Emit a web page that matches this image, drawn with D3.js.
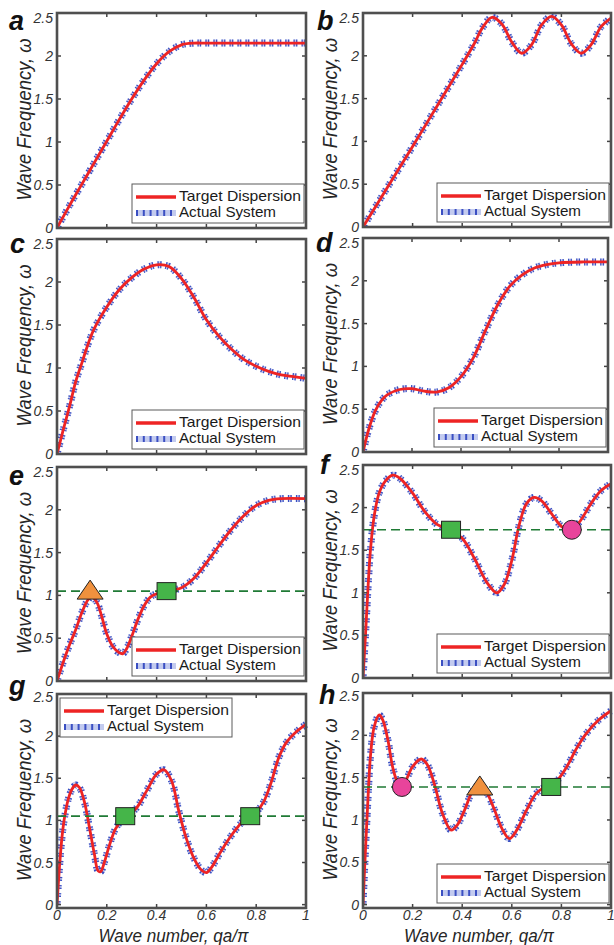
<!DOCTYPE html>
<html>
<head>
<meta charset="utf-8">
<script src="https://cdn.jsdelivr.net/npm/d3@7"></script>
<style>
  body { margin: 0; background: #fff; }
  svg { display: block; }
  text { font-family: "Liberation Sans", Arial, sans-serif; }
</style>
</head>
<body>
<svg id="fig" width="614" height="945"></svg>
<script>
// wave number axis values and tick labels
var xTicks = [0, 0.2, 0.4, 0.6, 0.8, 1];
var xTickLabels = ["0", "0.2", "0.4", "0.6", "0.8", "1"];
var yTicks = [0, 0.5, 1, 1.5, 2, 2.5];
var yTickLabels = ["0", "0.5", "1", "1.5", "2", "2.5"];
var seriesNames = ["Target Dispersion", "Actual System"];

// dispersion curves (q = qa/pi, w = frequency)
var qA = [0, 0.05, 0.1, 0.15, 0.2, 0.25, 0.3, 0.35, 0.4, 0.45, 0.5, 0.55, 0.6, 0.7, 0.8, 0.9, 1];
var wA = [0, 0.26, 0.51, 0.76, 1.01, 1.26, 1.5, 1.72, 1.91, 2.05, 2.13, 2.15, 2.15, 2.15, 2.15, 2.15, 2.15];

var qB = [0, 0.1, 0.2, 0.3, 0.4, 0.45, 0.48, 0.52, 0.56, 0.6, 0.64, 0.68, 0.72, 0.76, 0.8, 0.84, 0.88, 0.92, 0.96, 1];
var wB = [0, 0.47, 0.94, 1.42, 1.9, 2.15, 2.32, 2.45, 2.37, 2.16, 2.03, 2.13, 2.36, 2.46, 2.36, 2.14, 2.03, 2.13, 2.34, 2.44];

var qC = [0, 0.025, 0.05, 0.075, 0.1, 0.125, 0.15, 0.2, 0.25, 0.3, 0.35, 0.4, 0.45, 0.5, 0.55, 0.6, 0.65, 0.7, 0.75, 0.8, 0.85, 0.9, 0.95, 1];
var wC = [0, 0.28, 0.55, 0.84, 1.06, 1.28, 1.46, 1.71, 1.91, 2.05, 2.15, 2.2, 2.18, 2.04, 1.82, 1.56, 1.37, 1.22, 1.1, 1.02, 0.96, 0.92, 0.9, 0.88];

var qD = [0, 0.025, 0.05, 0.075, 0.1, 0.15, 0.2, 0.25, 0.3, 0.35, 0.4, 0.45, 0.5, 0.55, 0.6, 0.65, 0.7, 0.75, 0.8, 0.9, 1];
var wD = [0, 0.28, 0.48, 0.6, 0.67, 0.73, 0.74, 0.71, 0.7, 0.75, 0.88, 1.1, 1.42, 1.72, 1.94, 2.07, 2.15, 2.19, 2.21, 2.22, 2.22];

var qE = [0, 0.025, 0.05, 0.075, 0.1, 0.125, 0.14, 0.16, 0.18, 0.2, 0.225, 0.25, 0.265, 0.28, 0.3, 0.325, 0.35, 0.375, 0.4, 0.44, 0.5, 0.55, 0.6, 0.65, 0.7, 0.75, 0.8, 0.85, 0.9, 1];
var wE = [0, 0.22, 0.42, 0.6, 0.8, 0.95, 0.98, 0.92, 0.75, 0.55, 0.4, 0.33, 0.32, 0.38, 0.52, 0.72, 0.88, 0.98, 1.02, 1.05, 1.09, 1.2, 1.38, 1.58, 1.77, 1.93, 2.05, 2.11, 2.13, 2.13];

var qF = [0, 0.01, 0.02, 0.03, 0.045, 0.065, 0.09, 0.12, 0.15, 0.2, 0.25, 0.3, 0.35, 0.4, 0.45, 0.5, 0.54, 0.57, 0.6, 0.63, 0.66, 0.69, 0.72, 0.76, 0.8, 0.835, 0.87, 0.92, 0.96, 1];
var wF = [0, 0.5, 1.05, 1.5, 1.9, 2.17, 2.31, 2.38, 2.34, 2.17, 1.95, 1.8, 1.74, 1.64, 1.4, 1.12, 1.0, 1.1, 1.38, 1.8, 2.05, 2.12, 2.08, 1.93, 1.78, 1.73, 1.82, 2.05, 2.2, 2.28];

var qG = [0, 0.01, 0.02, 0.03, 0.045, 0.06, 0.075, 0.09, 0.11, 0.13, 0.15, 0.165, 0.175, 0.19, 0.21, 0.235, 0.26, 0.28, 0.32, 0.36, 0.4, 0.43, 0.46, 0.49, 0.52, 0.55, 0.58, 0.6, 0.62, 0.66, 0.7, 0.74, 0.77, 0.8, 0.83, 0.86, 0.89, 0.92, 0.96, 1];
var wG = [0, 0.45, 0.8, 1.03, 1.25, 1.37, 1.42, 1.39, 1.22, 0.92, 0.6, 0.4, 0.39, 0.5, 0.7, 0.9, 1.0, 1.05, 1.15, 1.35, 1.55, 1.6, 1.47, 1.1, 0.78, 0.55, 0.41, 0.38, 0.44, 0.64, 0.82, 0.97, 1.04, 1.1, 1.22, 1.45, 1.74, 1.92, 2.05, 2.14];

var qH = [0, 0.01, 0.02, 0.03, 0.045, 0.065, 0.08, 0.1, 0.12, 0.14, 0.155, 0.17, 0.2, 0.235, 0.26, 0.29, 0.32, 0.355, 0.38, 0.41, 0.44, 0.47, 0.5, 0.53, 0.56, 0.59, 0.62, 0.66, 0.7, 0.74, 0.78, 0.82, 0.86, 0.9, 0.95, 1];
var wH = [0, 0.65, 1.25, 1.75, 2.1, 2.24, 2.18, 1.95, 1.62, 1.44, 1.4, 1.45, 1.63, 1.72, 1.65, 1.4, 1.08, 0.88, 0.94, 1.12, 1.33, 1.42, 1.32, 1.12, 0.9, 0.78, 0.88, 1.12, 1.32, 1.4, 1.46, 1.62, 1.84, 2.02, 2.18, 2.29];

// equal-frequency lines and the marked crossings
var levelE = 1.05, markQE = [0.133, 0.44], markShapeE = ["triangle", "square"];
var levelF = 1.74, markQF = [0.355, 0.842], markShapeF = ["square", "circle"];
var levelG = 1.05, markQG = [0.274, 0.776], markShapeG = ["square", "square"];
var levelH = 1.39, markQH = [0.157, 0.471, 0.759], markShapeH = ["circle", "triangle", "square"];

var svg = d3.select("#fig");

var panels = [
  {id: "a", q: qA, w: wA, box: [57, 13, 306, 228], lab: [9, 30], leg: "br"},
  {id: "b", q: qB, w: wB, box: [363, 13, 611, 227], lab: [317, 30], leg: "br"},
  {id: "c", q: qC, w: wC, box: [57, 239, 306, 454], lab: [10, 253], leg: "br"},
  {id: "d", q: qD, w: wD, box: [363, 238, 608, 452], lab: [316, 252], leg: "br"},
  {id: "e", q: qE, w: wE, box: [57, 467, 306, 681], lab: [9, 485], leg: "br", level: levelE, mq: markQE, ms: markShapeE},
  {id: "f", q: qF, w: wF, box: [363, 465, 611, 678], lab: [320, 474], leg: "br", level: levelF, mq: markQF, ms: markShapeF},
  {id: "g", q: qG, w: wG, box: [57, 694, 306, 908], lab: [9, 695], leg: "tl", level: levelG, mq: markQG, ms: markShapeG, bottom: true},
  {id: "h", q: qH, w: wH, box: [363, 693, 611, 908], lab: [319, 704], leg: "br", level: levelH, mq: markQH, ms: markShapeH, bottom: true}
];

var markColor = {triangle: "#f0913e", square: "#45b549", circle: "#e8449b"};

function drawPanel(p) {
  var L = p.box[0], T = p.box[1], R = p.box[2], B = p.box[3];
  var x = d3.scaleLinear().domain([0, 1]).range([L, R]);
  var y = d3.scaleLinear().domain(p.bottom ? [-0.04, 2.5] : [0, 2.5]).range([B, T]);
  var g = svg.append("g");
  var clipId = "clip-" + p.id;
  g.append("clipPath").attr("id", clipId).append("rect")
    .attr("x", L).attr("y", T - 2).attr("width", R - L + 2).attr("height", B - T + 2);

  var pts = p.q.map(function(d, i) { return [d, p.w[i]]; });
  var line = d3.line().x(function(d) { return x(d[0]); }).y(function(d) { return y(d[1]); })
    .curve(d3.curveCatmullRom.alpha(0.5));

  var plot = g.append("g").attr("clip-path", "url(#" + clipId + ")");
  // actual system: hatched blue
  plot.append("path").attr("d", line(pts)).attr("fill", "none")
    .attr("stroke", "#c3cbef").attr("stroke-width", 7).attr("stroke-dasharray", "4,4");
  plot.append("path").attr("d", line(pts)).attr("fill", "none")
    .attr("stroke", "#3b4fc2").attr("stroke-width", 7).attr("stroke-dasharray", "1.2,1.4,1.2,4.2");
  // target dispersion: red
  plot.append("path").attr("d", line(pts)).attr("fill", "none")
    .attr("stroke", "#ee2424").attr("stroke-width", 2.8);

  if (p.level !== undefined) {
    plot.append("line").attr("x1", L).attr("x2", R).attr("y1", y(p.level)).attr("y2", y(p.level))
      .attr("stroke", "#1f7a35").attr("stroke-width", 1.6).attr("stroke-dasharray", "9,5");
    p.mq.forEach(function(mq, i) {
      var cx = x(mq), cy = y(p.level), s = p.ms[i];
      if (s === "square") {
        g.append("rect").attr("x", cx - 9.5).attr("y", cy - 8.5).attr("width", 19).attr("height", 17)
          .attr("fill", markColor.square).attr("stroke", "#222").attr("stroke-width", 1);
      } else if (s === "circle") {
        g.append("circle").attr("cx", cx).attr("cy", cy).attr("r", 9.5)
          .attr("fill", markColor.circle).attr("stroke", "#222").attr("stroke-width", 1);
      } else {
        g.append("path").attr("d", "M" + (cx - 13) + "," + (cy + 8) + "L" + cx + "," + (cy - 11) + "L" + (cx + 13) + "," + (cy + 8) + "Z")
          .attr("fill", markColor.triangle).attr("stroke", "#222").attr("stroke-width", 1);
      }
    });
  }

  // ticks on all four sides, pointing inwards
  xTicks.forEach(function(t) {
    g.append("line").attr("x1", x(t)).attr("x2", x(t)).attr("y1", B).attr("y2", B - 4).attr("stroke", "#444").attr("stroke-width", 1.5);
    g.append("line").attr("x1", x(t)).attr("x2", x(t)).attr("y1", T).attr("y2", T + 4).attr("stroke", "#444").attr("stroke-width", 1.5);
  });
  yTicks.forEach(function(t, i) {
    g.append("line").attr("x1", L).attr("x2", L + 4).attr("y1", y(t)).attr("y2", y(t)).attr("stroke", "#444").attr("stroke-width", 1.5);
    g.append("line").attr("x1", R).attr("x2", R - 4).attr("y1", y(t)).attr("y2", y(t)).attr("stroke", "#444").attr("stroke-width", 1.5);
    // the top label sits a little lower, as in the figure
    var shift = t === 2.5 ? (p.bottom ? 3 : 5) : 0;
    g.append("text").attr("x", L - 4).attr("y", y(t) + shift).attr("dy", "0.36em")
      .attr("text-anchor", "end").attr("font-size", 14).attr("font-style", "italic").attr("fill", "#333")
      .text(yTickLabels[i]);
  });
  if (p.bottom) {
    xTicks.forEach(function(t, i) {
      g.append("text").attr("x", x(t)).attr("y", B + 12)
        .attr("text-anchor", "middle").attr("font-size", 14).attr("font-style", "italic").attr("fill", "#333")
        .text(xTickLabels[i]);
    });
    g.append("text").attr("x", (L + R) / 2 - 8).attr("y", B + 34)
      .attr("text-anchor", "middle").attr("font-size", 19).attr("font-style", "italic").attr("fill", "#262626")
      .attr("textLength", 150).attr("lengthAdjust", "spacingAndGlyphs")
      .text("Wave number, qa/\u03c0");
  }

  // frame
  g.append("rect").attr("x", L).attr("y", T).attr("width", R - L).attr("height", B - T)
    .attr("fill", "none").attr("stroke", "#4f4f4f").attr("stroke-width", 2.6);

  // y label
  var ly = (T + B) / 2 - 1;
  g.append("text").attr("transform", "translate(" + (L - 26) + "," + ly + ") rotate(-90)")
    .attr("text-anchor", "middle").attr("font-size", 21).attr("font-style", "italic").attr("fill", "#262626")
    .attr("textLength", 162).attr("lengthAdjust", "spacingAndGlyphs")
    .text("Wave Frequency, \u03c9");

  // panel letter
  g.append("text").attr("x", p.lab[0]).attr("y", p.lab[1]).attr("font-size", 27)
    .attr("font-style", "italic").attr("font-weight", "bold").attr("fill", "#111").text(p.id);

  // legend
  var lx = p.leg === "tl" ? L + 3 : R - 174;
  var ly0 = p.leg === "tl" ? T + 4 : B - 44;
  var lg = g.append("g").attr("transform", "translate(" + lx + "," + ly0 + ")");
  lg.append("rect").attr("width", 172).attr("height", 39).attr("fill", "#fff").attr("stroke", "#5a5a5a").attr("stroke-width", 1);
  lg.append("line").attr("x1", 4).attr("x2", 44).attr("y1", 13).attr("y2", 13).attr("stroke", "#ee2424").attr("stroke-width", 3.5);
  lg.append("line").attr("x1", 4).attr("x2", 44).attr("y1", 29).attr("y2", 29).attr("stroke", "#c3cbef").attr("stroke-width", 6);
  lg.append("line").attr("x1", 4).attr("x2", 44).attr("y1", 29).attr("y2", 29).attr("stroke", "#3b4fc2").attr("stroke-width", 6).attr("stroke-dasharray", "2,4.8");
  seriesNames.forEach(function(n, i) {
    lg.append("text").attr("x", 47).attr("y", 17 + i * 16).attr("font-size", 15).attr("fill", "#1a1a1a")
      .attr("textLength", n === "Target Dispersion" ? 122 : 97).attr("lengthAdjust", "spacingAndGlyphs").text(n);
  });
}

panels.forEach(drawPanel);
</script>
</body>
</html>
